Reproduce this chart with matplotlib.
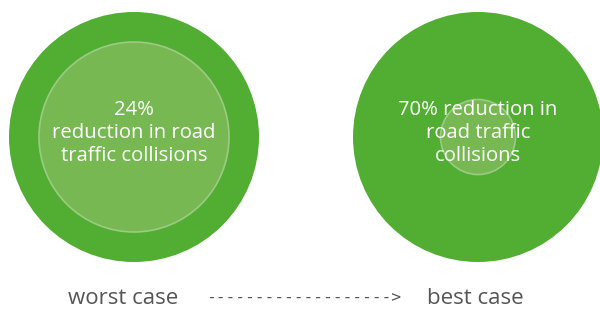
import matplotlib.pyplot as plt
from matplotlib.patches import Circle

# reduction in road traffic collisions, worst case vs best case
cases = ["worst case", "best case"]
reductions = [24, 70]
labels = ["24%\nreduction in road\ntraffic collisions",
          "70% reduction in\nroad traffic\ncollisions"]

outer_col = "#52ae32"
inner_col = "#77b852"
edge_col = "#9ccb84"
grey = "#555555"

fig = plt.figure(figsize=(6, 3.09), dpi=100)
ax = fig.add_axes([0, 0, 1, 1])
ax.set_xlim(0, 600)
ax.set_ylim(309, 0)
ax.set_aspect("equal")
ax.axis("off")

centers = [(134, 137), (478, 137)]
R = 125
for (cx, cy), red, lab in zip(centers, reductions, labels):
    ax.add_patch(Circle((cx, cy), R, color=outer_col, lw=0))
    r_in = R * (1 - red / 100)
    ax.add_patch(Circle((cx, cy), r_in, facecolor=inner_col,
                        edgecolor=edge_col, lw=1.2))
    ax.text(cx, cy - 4, lab, ha="center", va="center", color="white",
            fontsize=14.6, family="Open Sans", linespacing=1.22)

ax.text(68, 298, cases[0], ha="left", va="center", color=grey,
        fontsize=16, family="Open Sans")
ax.text(206, 298, "------------------->", ha="left", va="center",
        color=grey, fontsize=11.7, family="DejaVu Sans Mono")
ax.text(427, 298, cases[1], ha="left", va="center", color=grey,
        fontsize=16, family="Open Sans")

fig.savefig("out.png", dpi=100)
